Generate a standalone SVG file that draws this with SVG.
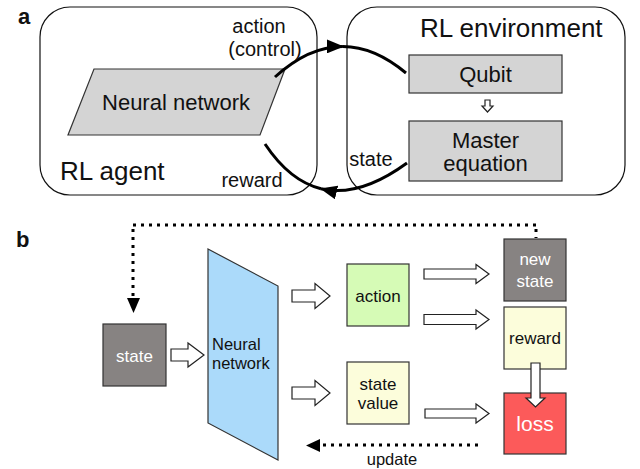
<svg xmlns="http://www.w3.org/2000/svg" width="640" height="469" viewBox="0 0 640 469">
<style>
text{font-family:"Liberation Sans",Arial,sans-serif;fill:#111}
.ttl{font-weight:bold;font-size:22px}
.pa{font-size:20px}
.big{font-size:26px}
.mid{font-size:22px}
.sm{font-size:17px}
.w{fill:#fff}
.frame{fill:#fff;stroke:#111;stroke-width:1.2}
.gbox{fill:#d4d4d4;stroke:#333;stroke-width:1.2}
.curve{fill:none;stroke:#000;stroke-width:3}
.dots{fill:none;stroke:#000;stroke-width:3;stroke-dasharray:3 5}
.blk{fill:#fff;stroke:#222;stroke-width:1.2}
.node{stroke:#333;stroke-width:1.2}
</style>
<defs>
<marker id="ah" markerUnits="userSpaceOnUse" markerWidth="18" markerHeight="14" refX="16" refY="7" orient="auto">
<path d="M0,0 L17,7 L0,14 z" fill="#000"/>
</marker>
</defs>
<rect width="640" height="469" fill="#fff"/>
<text class="ttl" x="18" y="24">a</text>
<text class="ttl" x="16" y="247">b</text>

<g id="rl-agent">
<rect class="frame" x="40" y="7" width="277" height="188" rx="30"/>
<text class="big" x="60" y="180">RL agent</text>
</g>
<g id="rl-environment">
<rect class="frame" x="347" y="7" width="278" height="188" rx="30"/>
<text class="big" x="420" y="37">RL environment</text>
</g>
<g id="neural-network-a">
<polygon class="gbox" points="94,69 285,69 260,135 68,135"/>
<text class="mid" x="176" y="110" text-anchor="middle">Neural network</text>
</g>
<g id="qubit">
<rect class="gbox" x="409" y="55" width="153" height="38"/>
<text class="mid" x="485.5" y="82" text-anchor="middle">Qubit</text>
</g>
<g id="master-equation">
<rect class="gbox" x="409" y="121" width="153" height="60"/>
<text class="mid" x="485.5" y="148" text-anchor="middle">Master</text>
<text class="mid" x="485.5" y="171" text-anchor="middle">equation</text>
</g>

<g id="state-b">
<rect class="node" x="103" y="324" width="63" height="62" fill="#878382"/>
<text class="sm w" x="134.5" y="362" text-anchor="middle" font-size="18">state</text>
</g>
<g id="neural-network-b">
<polygon class="node" points="208,249 278,286 278,460 208,423" fill="#abdafa"/>
<text x="212" y="350" font-size="16.5">Neural</text>
<text x="212" y="369" font-size="16.5">network</text>
</g>
<g id="action">
<rect class="node" x="347" y="264" width="62" height="62" fill="#d6fbb6"/>
<text class="sm" x="378" y="302" text-anchor="middle">action</text>
</g>
<g id="state-value">
<rect class="node" x="347" y="362" width="62" height="62" fill="#fcfddb"/>
<text class="sm" x="378" y="390" text-anchor="middle">state</text>
<text class="sm" x="378" y="409" text-anchor="middle">value</text>
</g>
<g id="new-state">
<rect class="node" x="504" y="239" width="62" height="62" fill="#878382"/>
<text class="sm w" x="535" y="265" text-anchor="middle" font-size="18">new</text>
<text class="sm w" x="535" y="287" text-anchor="middle" font-size="18">state</text>
</g>
<g id="reward">
<rect class="node" x="504" y="307" width="62" height="62" fill="#fcfddb"/>
<text class="sm" x="535" y="344" text-anchor="middle">reward</text>
</g>
<g id="loss">
<rect class="node" x="504" y="393" width="62" height="61" fill="#fc5a5a"/>
<text class="w" x="535" y="431" text-anchor="middle" font-size="21">loss</text>
</g>

<g id="connectors">
<path class="curve" d="M275,77 Q308.8,46.3 342.9,46.5" marker-end="url(#ah)"/>
<path class="curve" d="M342.9,46.5 Q374.3,46.6 406,73"/>
<path class="curve" d="M407,163 Q359.2,197.9 321,188.7" marker-end="url(#ah)"/>
<path class="curve" d="M321,188.7 Q289.8,181.1 265,144"/>
<text class="pa" x="259" y="33" text-anchor="middle">action</text>
<text class="pa" x="265" y="56" text-anchor="middle">(control)</text>
<text class="pa" x="252" y="187" text-anchor="middle">reward</text>
<text class="pa" x="371" y="166" text-anchor="middle">state</text>
<path class="blk" d="M485,100 H490 V106 H493 L487.5,112 L482,106 H485 Z"/>

<path class="dots" d="M133,225 H536"/>
<path class="dots" d="M133,229 V296"/>
<polygon points="127,298 140,298 133.5,313" fill="#000"/>
<path class="dots" d="M536,229 V238"/>
<path class="dots" d="M478,445 H322"/>
<polygon points="306,445.5 320,439 320,452" fill="#000"/>
<text x="392" y="465" text-anchor="middle" font-size="16.5">update</text>

<path class="blk" d="M171,349 H188 V343 L204,355 L188,367 V361 H171 Z"/>
<path class="blk" d="M292,290 H315 V283.5 L330,296 L315,308.5 V302 H292 Z"/>
<path class="blk" d="M292,387 H315 V380.5 L330,393 L315,405.5 V399 H292 Z"/>
<path class="blk" d="M424,269 H476 V264.5 L489,274 L476,283.5 V279 H424 Z"/>
<path class="blk" d="M424,314.5 H476 V310 L489,319.5 L476,329 V324.5 H424 Z"/>
<path class="blk" d="M425,409 H476 V404 L489,413.5 L476,423 V418 H425 Z"/>
<path class="blk" d="M531,363 H540 V398 H545 L535.5,407 L526,398 H531 Z"/>
</g>
</svg>
